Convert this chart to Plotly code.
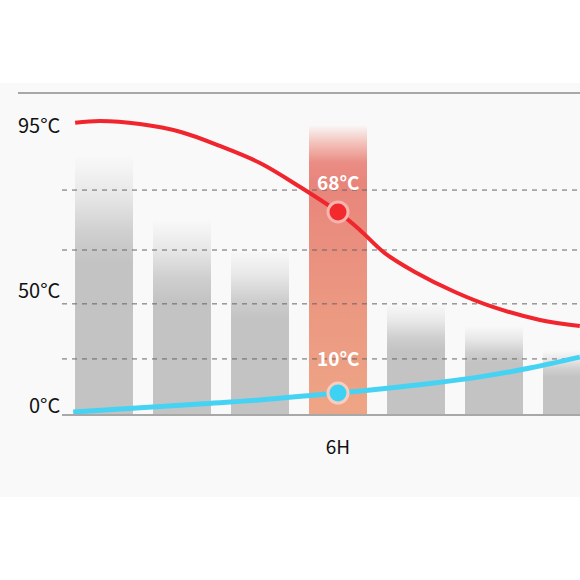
import plotly.graph_objects as go

# ---------------- data ----------------
bar_hours = [0, 2, 4, 6, 8, 10, 12]
bar_values = [85, 64, 54, 95, 36, 29, 21]
highlight_hour = 6

hot_hours = [-0.74, -0.1, 0.92, 1.97, 2.97, 4.0, 5.03, 6.0, 6.56, 7.2, 7.97, 9.0, 9.97, 11.18, 12.2]
hot_temps = [95.7, 96.3, 95.3, 92.7, 88.1, 82.5, 74.6, 66.4, 60.5, 52.9, 46.7, 40.1, 35.2, 30.9, 28.9]

cold_hours = [-0.79, 2.46, 4.0, 6.0, 7.08, 8.36, 9.64, 10.92, 12.2]
cold_temps = [0.66, 3.3, 4.6, 6.9, 8.2, 10.0, 12.2, 15.1, 18.7]

point_hot = 66.4
point_cold = 6.9
point_labels = ["68°C", "10°C"]

y_tick_labels = ["95°C", "50°C", "0°C"]
y_tick_values = [95, 50, 0]
x_tick_labels = ["6H"]
x_tick_values = [6]

grid_values = [18.1, 36.2, 53.9, 73.6]

# ---------------- style ----------------
FONT = "Noto Sans CJK SC"
BG = "#f9f9f9"
GRAY = "#c3c3c3"
BAR_W = 1.487
X_RANGE = [-1.077, 12.205]
Y_RANGE = [0, 105.5]

fig = go.Figure()

for h, v in zip(bar_hours, bar_values):
    x0, x1 = h - BAR_W / 2, h + BAR_W / 2
    if h == highlight_hour:
        cs = [[0, "#eea585"], [0.45, "#eb9581"], [0.8, "#e8857b"],
              [0.87, "#ea8d84"], [0.94, "#f3c4bd"], [1, BG]]
    else:
        cs = [[0, GRAY], [0.58, GRAY], [0.7, "#cfcfcf"], [0.85, "#e8e8e8"], [1, BG]]
    fig.add_trace(go.Scatter(
        x=[x0, x1, x1, x0, x0], y=[0, 0, v, v, 0],
        mode="lines", line=dict(width=0), fill="toself",
        fillgradient=dict(type="vertical", colorscale=cs, start=0, stop=v),
        hoverinfo="skip", showlegend=False))

for g in grid_values:
    fig.add_trace(go.Scatter(
        x=X_RANGE, y=[g, g], mode="lines",
        line=dict(color="#666666", width=1, dash="5px,5px"),
        hoverinfo="skip", showlegend=False))

fig.add_trace(go.Scatter(
    x=hot_hours, y=hot_temps, mode="lines",
    line=dict(color="#f0252d", width=4, shape="spline", smoothing=1.0),
    showlegend=False))
fig.add_trace(go.Scatter(
    x=cold_hours, y=cold_temps, mode="lines",
    line=dict(color="#46d3f3", width=5, shape="spline", smoothing=1.0),
    showlegend=False))

fig.add_trace(go.Scatter(
    x=[highlight_hour], y=[point_hot], mode="markers",
    marker=dict(size=20, color="#f22a2e", line=dict(color="#f7b3ad", width=3)),
    showlegend=False))
fig.add_trace(go.Scatter(
    x=[highlight_hour], y=[point_cold], mode="markers",
    marker=dict(size=20, color="#3dd2f3", line=dict(color="#f6cdbf", width=3)),
    showlegend=False))

# point labels
fig.add_annotation(x=highlight_hour, y=point_hot, text="<b>" + point_labels[0] + "</b>",
                   showarrow=False, yshift=30,
                   font=dict(family=FONT, size=19, color="white"))
fig.add_annotation(x=highlight_hour, y=point_cold, text="<b>" + point_labels[1] + "</b>",
                   showarrow=False, yshift=36,
                   font=dict(family=FONT, size=19, color="white"))

# y tick labels
for lab, val, sh in zip(y_tick_labels, y_tick_values, [0, -28, 10]):
    fig.add_annotation(x=0, xref="paper", xanchor="right", xshift=1,
                       y=val, yref="y", yshift=sh, text=lab, showarrow=False,
                       font=dict(family=FONT, size=20, color="#111111"))

# panel background & top rule
fig.add_shape(type="rect", xref="paper", yref="paper", x0=-0.1197, x1=1.0,
              y0=-0.2586, y1=1.0312, fillcolor=BG, line=dict(width=0), layer="below")
fig.add_shape(type="line", xref="paper", yref="paper", x0=-0.085, x1=1.0,
              y0=1, y1=1, line=dict(color="#a8a8a8", width=2), layer="above")

fig.update_layout(
    width=580, height=580,
    margin=dict(l=62, r=0, t=93, b=166),
    paper_bgcolor="white", plot_bgcolor=BG,
    xaxis=dict(range=X_RANGE, showgrid=False, zeroline=False,
               showline=True, linecolor="#a8a8a8", linewidth=2,
               tickvals=x_tick_values, ticktext=x_tick_labels,
               ticks="outside", ticklen=15, tickcolor="rgba(0,0,0,0)",
               tickfont=dict(family=FONT, size=19, color="#111111")),
    yaxis=dict(range=Y_RANGE, showgrid=False, zeroline=False,
               showticklabels=False, showline=False),
)

fig.write_html("out.html", config={"displayModeBar": False},
               post_script="document.body.style.margin='0';")
